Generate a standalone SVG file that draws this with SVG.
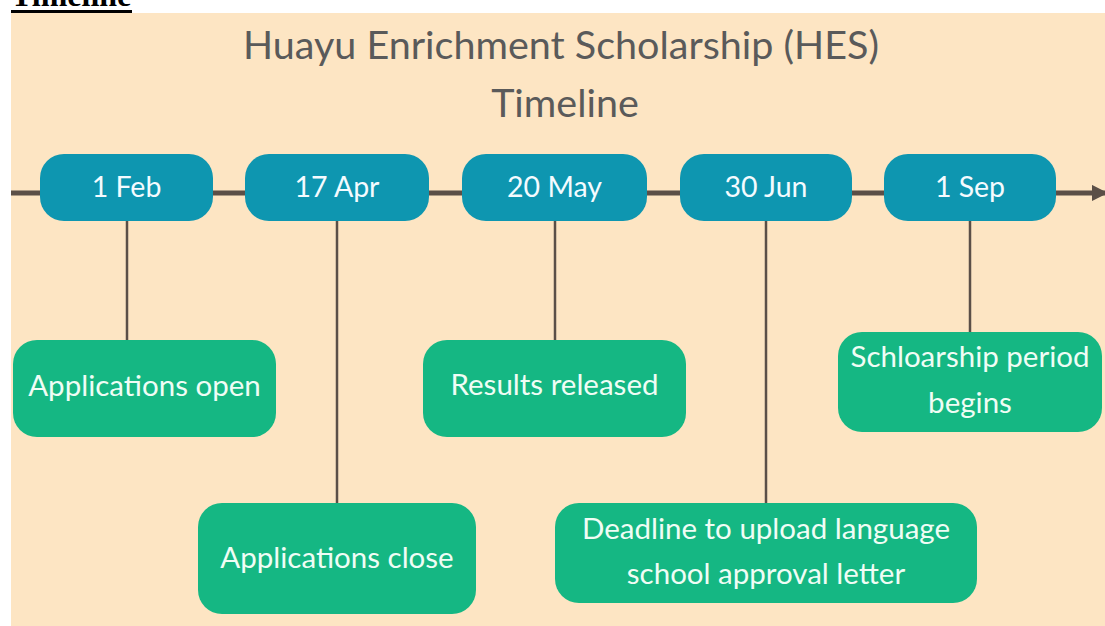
<svg xmlns="http://www.w3.org/2000/svg" width="1105" height="626" viewBox="0 0 1105 626">
<defs>
<style>
.date rect{fill:#0E96B0}
.date text{fill:#F4FBFF;font-family:Lato,"Open Sans",sans-serif;font-size:28.5px;text-anchor:middle}
.ev rect{fill:#15B783}
.ev text{fill:#EFFDF5;font-family:Lato,"Open Sans",sans-serif;font-size:29.5px;text-anchor:middle}
.stem{stroke:#5B4F47;stroke-width:2.5}
.title{fill:#5A5A5A;font-family:Lato,"Open Sans",sans-serif;font-size:39.5px;text-anchor:middle}
</style>
<marker id="arr" viewBox="0 0 10 10" refX="9" refY="5" markerWidth="3" markerHeight="3.4" orient="auto" markerUnits="strokeWidth">
<path d="M0,0 L10,5 L0,10 Z" fill="#5B4F47" stroke="#5B4F47" stroke-linejoin="round"/>
</marker>
</defs>
<rect x="0" y="0" width="1105" height="626" fill="#FFFFFF"/>
<rect x="11" y="13" width="1094" height="613" fill="#FDE5C3"/>
<text x="11" y="6" font-family="Liberation Serif,serif" font-weight="bold" font-size="32" fill="#000">Timeline</text>
<rect x="11" y="10" width="121" height="3" fill="#000"/>
<text class="title" x="561" y="59">Huayu Enrichment Scholarship (HES)</text>
<text class="title" x="565" y="117">Timeline</text>
<g id="connectors">
<line x1="11" y1="193" x2="1105" y2="193" stroke="#5B4F47" stroke-width="5" marker-end="url(#arr)"/>
<line class="stem" x1="127" y1="221" x2="127" y2="340"/>
<line class="stem" x1="337" y1="221" x2="337" y2="503"/>
<line class="stem" x1="555" y1="221" x2="555" y2="340"/>
<line class="stem" x1="766" y1="221" x2="766" y2="503"/>
<line class="stem" x1="970" y1="221" x2="970" y2="332"/>
</g>
<g id="d-feb" class="date"><rect x="40" y="154" width="173" height="67" rx="24"/><text x="126.5" y="197">1 Feb</text></g>
<g id="d-apr" class="date"><rect x="245" y="154" width="184" height="67" rx="24"/><text x="337" y="197">17 Apr</text></g>
<g id="d-may" class="date"><rect x="462" y="154" width="185" height="67" rx="24"/><text x="554.5" y="197">20 May</text></g>
<g id="d-jun" class="date"><rect x="680" y="154" width="172" height="67" rx="24"/><text x="766" y="197">30 Jun</text></g>
<g id="d-sep" class="date"><rect x="884" y="154" width="172" height="67" rx="24"/><text x="970" y="197">1 Sep</text></g>
<g id="e-open" class="ev"><rect x="13" y="340" width="263" height="97" rx="24"/><text x="144.5" y="396">Applications open</text></g>
<g id="e-close" class="ev"><rect x="198" y="503" width="278" height="111" rx="24"/><text x="337" y="568">Applications close</text></g>
<g id="e-results" class="ev"><rect x="423" y="340" width="263" height="97" rx="24"/><text x="554.5" y="395">Results released</text></g>
<g id="e-deadline" class="ev"><rect x="555" y="503" width="422" height="100" rx="24"/><text x="766" y="539">Deadline to upload language</text><text x="766" y="584">school approval letter</text></g>
<g id="e-period" class="ev"><rect x="838" y="332" width="264" height="100" rx="24"/><text x="970" y="367">Schloarship period</text><text x="970" y="413">begins</text></g>
</svg>
